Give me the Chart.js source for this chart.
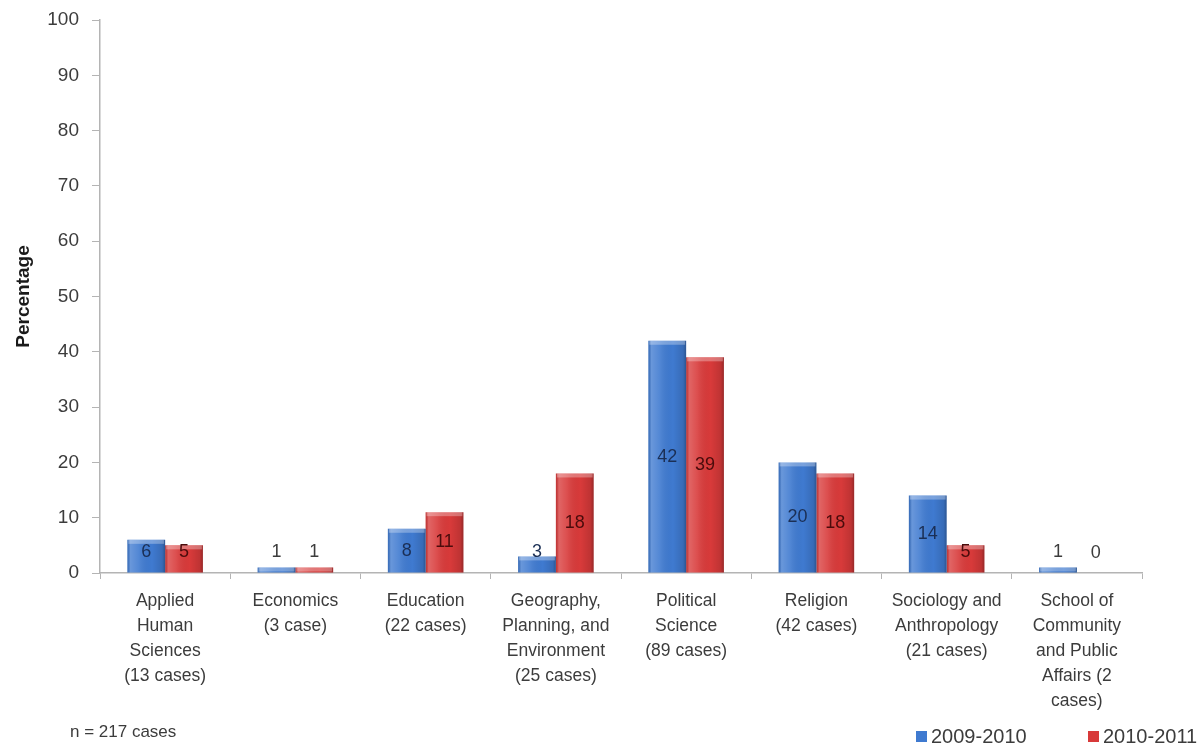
<!DOCTYPE html>
<html>
<head>
<meta charset="utf-8">
<script src="https://cdn.jsdelivr.net/npm/chart.js@4"></script>
<style>
  html, body { margin: 0; padding: 0; background: #fff; }
  #wrap { width: 1203px; height: 748px; }
</style>
</head>
<body>
<div id="wrap"><canvas id="myChart" width="1203" height="748"></canvas></div>
<script>
var departments = [
    ['Applied', 'Human', 'Sciences', '(13 cases)'],
    ['Economics', '(3 case)'],
    ['Education', '(22 cases)'],
    ['Geography,', 'Planning, and', 'Environment', '(25 cases)'],
    ['Political', 'Science', '(89 cases)'],
    ['Religion', '(42 cases)'],
    ['Sociology and', 'Anthropology', '(21 cases)'],
    ['School of', 'Community', 'and Public', 'Affairs (2', 'cases)']
];
var years = ['2009-2010', '2010-2011'];
var pct2009 = [6, 1, 8, 3, 42, 20, 14, 1];
var pct2010 = [5, 1, 11, 18, 39, 18, 5, 0];
var yTicks = [0, 10, 20, 30, 40, 50, 60, 70, 80, 90, 100];
var note = 'n = 217 cases';

var FONT = '"Liberation Sans", Arial, sans-serif';
var textGrey = '#3c3c3c';

// shading over the flat bars: light left edge, dark right edge, light top cap
var barShade = {
    id: 'barShade',
    afterDatasetsDraw: function(chart) {
        var ctx = chart.ctx;
        chart.data.datasets.forEach(function(ds, di) {
            chart.getDatasetMeta(di).data.forEach(function(bar) {
                var left = bar.x - bar.width / 2, right = bar.x + bar.width / 2;
                var h = bar.base - bar.y;
                if (h <= 0) return;
                var g = ctx.createLinearGradient(left, 0, right, 0);
                g.addColorStop(0, 'rgba(0,0,0,0.1)');
                g.addColorStop(0.08, 'rgba(255,255,255,0.22)');
                g.addColorStop(0.3, 'rgba(255,255,255,0.1)');
                g.addColorStop(0.65, 'rgba(0,0,0,0)');
                g.addColorStop(0.92, 'rgba(0,0,0,0.12)');
                g.addColorStop(1, 'rgba(0,0,0,0.3)');
                ctx.save();
                ctx.fillStyle = g;
                ctx.fillRect(left, bar.y, bar.width, h);
                ctx.fillStyle = 'rgba(255,255,255,0.3)';
                ctx.fillRect(left + 1, bar.y, bar.width - 2, Math.min(4, h));
                ctx.restore();
            });
        });
    }
};

// value labels: centred in the bar, but never lower than 20px above the axis
var valueLabels = {
    id: 'valueLabels',
    afterDatasetsDraw: function(chart) {
        var ctx = chart.ctx;
        var inside = ['#1b2f55', '#4a0c0c'];
        ctx.save();
        ctx.font = '18px ' + FONT;
        ctx.textAlign = 'center';
        ctx.textBaseline = 'middle';
        chart.data.datasets.forEach(function(ds, di) {
            chart.getDatasetMeta(di).data.forEach(function(bar, i) {
                var y = Math.min((bar.y + bar.base) / 2, bar.base - 20);
                ctx.fillStyle = (y < bar.y - 4) ? textGrey : inside[di];
                ctx.fillText(String(ds.data[i]), bar.x, y);
            });
        });
        ctx.restore();
    }
};

// legend at the bottom right and the case count at the bottom left
var footer = {
    id: 'footer',
    afterDraw: function(chart) {
        var ctx = chart.ctx;
        ctx.save();
        ctx.textBaseline = 'middle';
        ctx.fillStyle = textGrey;
        ctx.font = '17px ' + FONT;
        ctx.fillText(note, 70, 732);
        ctx.font = '20px ' + FONT;
        var xs = [916, 1088];
        chart.data.datasets.forEach(function(ds, di) {
            ctx.fillStyle = ds.backgroundColor;
            ctx.fillRect(xs[di], 731, 11, 11);
            ctx.fillStyle = textGrey;
            ctx.fillText(ds.label, xs[di] + 15, 737);
        });
        ctx.restore();
    }
};

var ctx = document.getElementById('myChart').getContext('2d');
var chart = new Chart(ctx, {
    type: 'bar',
    data: {
        labels: departments,
        datasets: [{
            label: years[0],
            data: pct2009,
            backgroundColor: '#3f7ad0',
            borderWidth: 0
        }, {
            label: years[1],
            data: pct2010,
            backgroundColor: '#d83a3a',
            borderWidth: 0
        }]
    },
    options: {
        responsive: false,
        animation: false,
        layout: { padding: { top: 20, right: 61, bottom: 0, left: 0 } },
        datasets: {
            bar: { categoryPercentage: 0.58, barPercentage: 1 }
        },
        plugins: {
            legend: { display: false },
            tooltip: { enabled: false }
        },
        scales: {
            x: {
                grid: {
                    offset: true,
                    drawOnChartArea: false,
                    tickLength: 6,
                    color: '#b4b4b4'
                },
                border: { color: '#b4b4b4', width: 1.5 },
                ticks: {
                    font: { family: FONT, size: 17.5, lineHeight: 1.43 },
                    color: textGrey,
                    padding: 10,
                    maxRotation: 0,
                    autoSkip: false
                },
                afterFit: function(scale) { scale.height = 748 - 573; }
            },
            y: {
                min: 0,
                max: 100,
                afterBuildTicks: function(scale) {
                    scale.ticks = yTicks.map(function(v) { return { value: v }; });
                },
                grid: {
                    drawOnChartArea: false,
                    tickLength: 8,
                    color: '#b4b4b4'
                },
                border: { color: '#b4b4b4', width: 1.5 },
                ticks: {
                    font: { family: FONT, size: 19 },
                    color: textGrey,
                    padding: 13
                },
                title: {
                    display: true,
                    text: 'Percentage',
                    font: { family: FONT, size: 19, weight: 'bold' },
                    color: '#1a1a1a',
                    padding: { top: 12, bottom: 0 }
                },
                afterFit: function(scale) {
                    scale.width = 100;
                    scale.paddingTop = 0;
                    scale.paddingBottom = 0;
                }
            }
        }
    },
    plugins: [barShade, valueLabels, footer]
});
</script>
</body>
</html>
